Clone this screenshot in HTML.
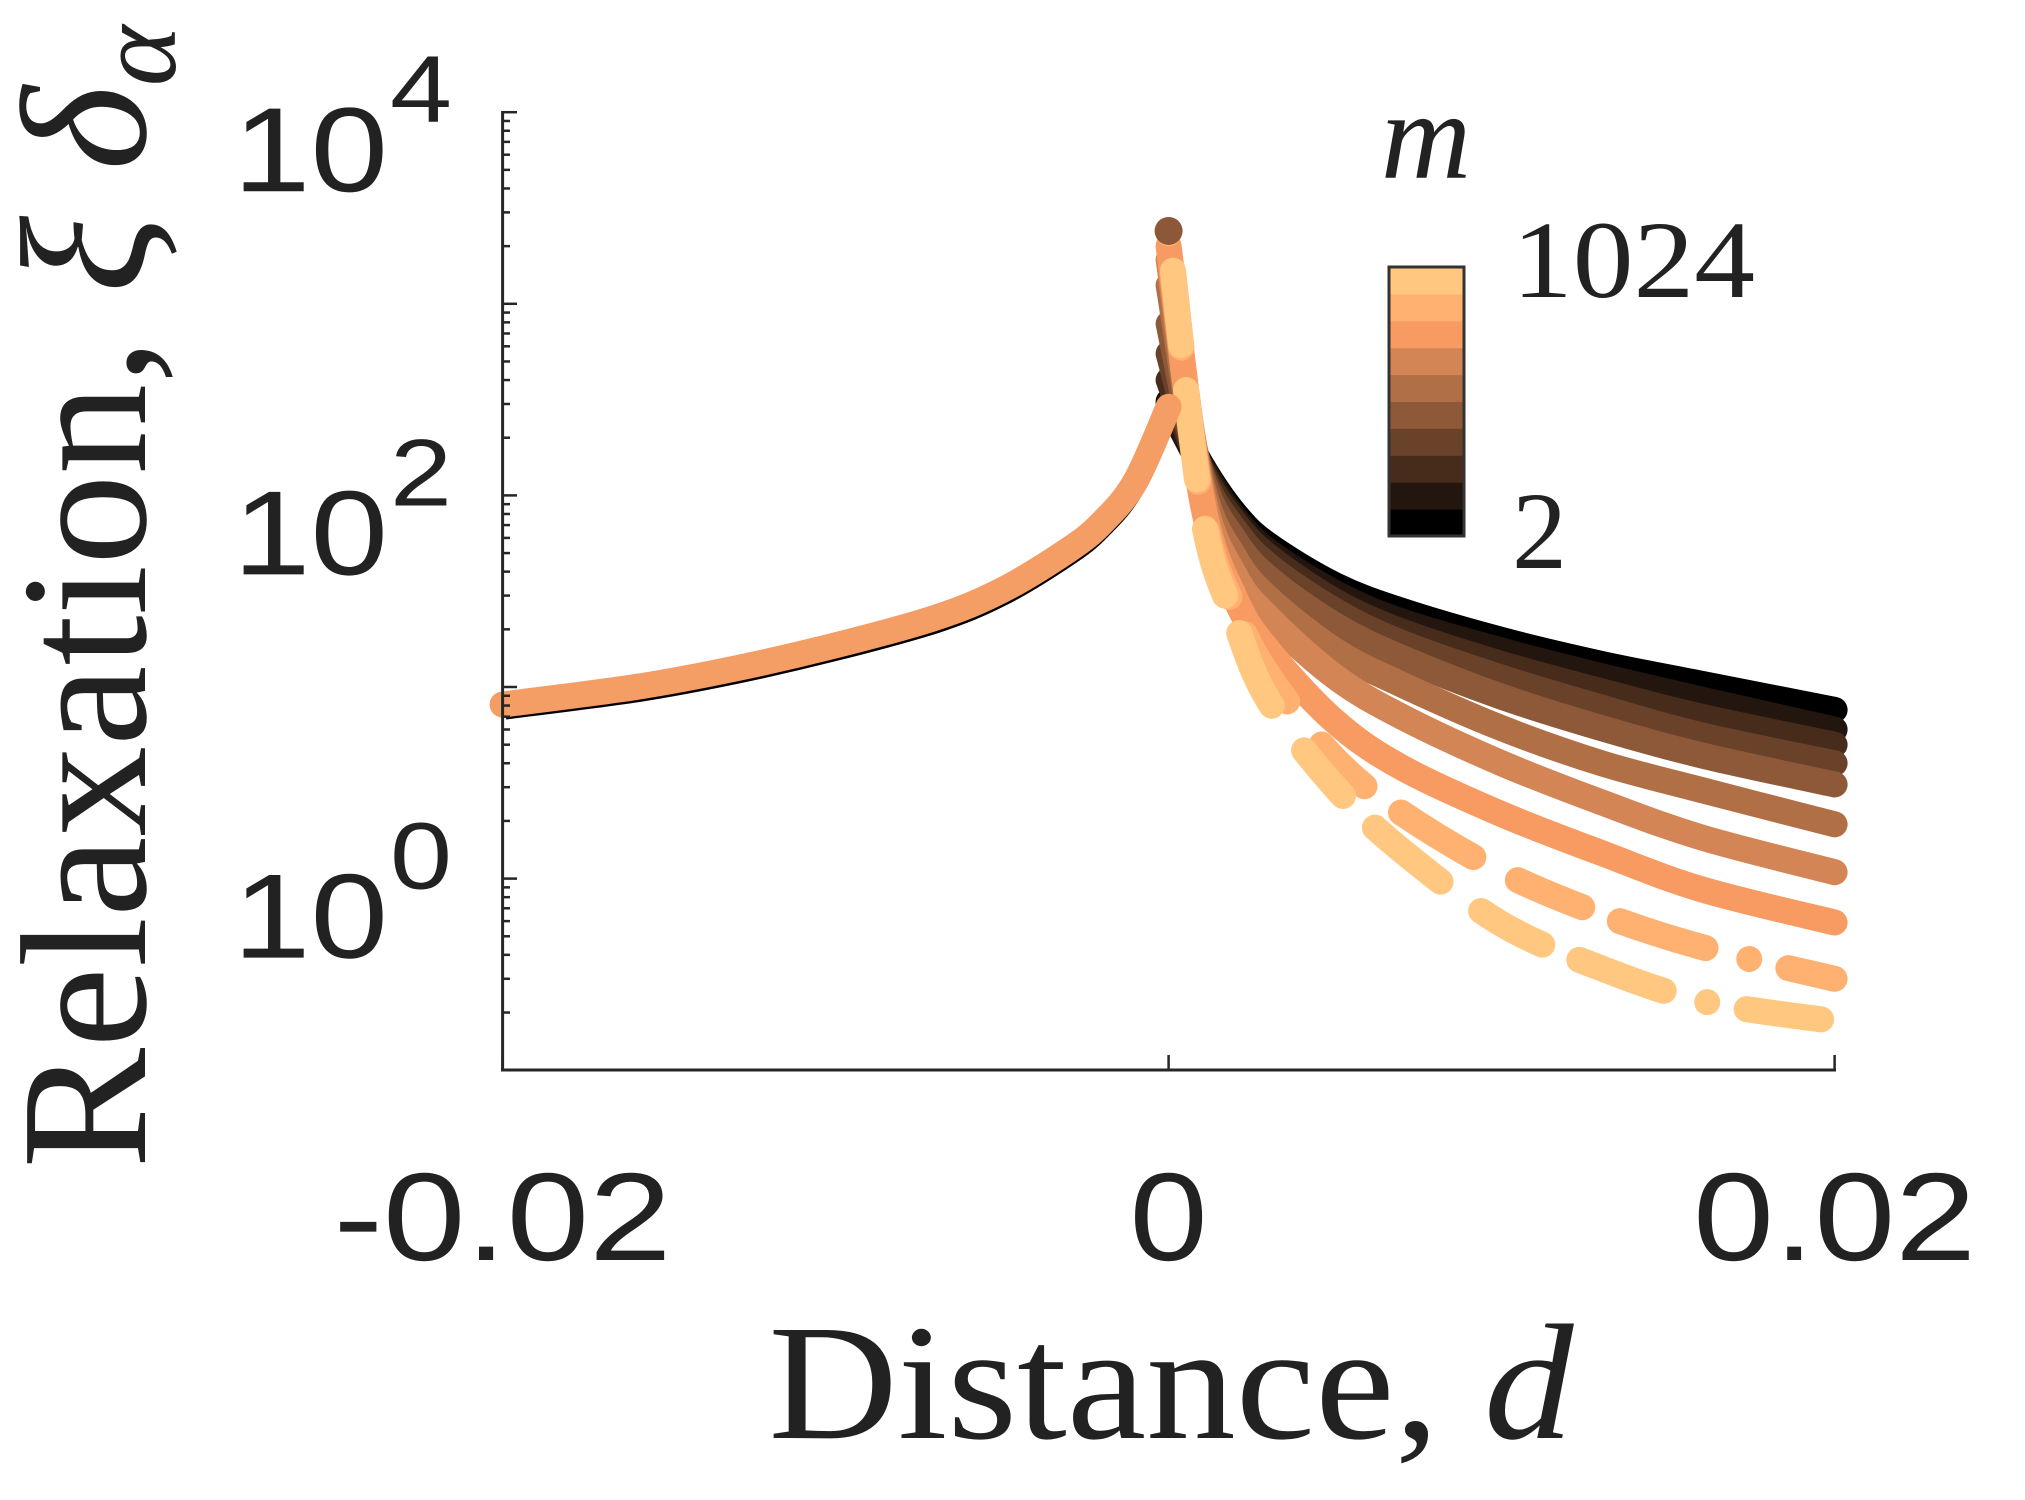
<!DOCTYPE html>
<html><head><meta charset="utf-8"><style>
html,body{margin:0;padding:0;background:#fff;}
svg{display:block;}
</style></head><body>
<svg id="chart" width="2025" height="1500" viewBox="0 0 2025 1500" xmlns="http://www.w3.org/2000/svg">
<defs><clipPath id="plotclip"><rect x="485" y="100" width="1375" height="970"/></clipPath></defs>
<g id="marks" clip-path="url(#plotclip)"></g>
<g id="axes"></g>
<g id="cbar"></g>
<text x="1426" y="178" font-family="Liberation Serif, serif" font-style="italic" font-size="125" text-anchor="middle" fill="#222">m</text>
<text x="1512" y="297" font-family="Liberation Serif, serif" font-size="110" textLength="243" lengthAdjust="spacingAndGlyphs" fill="#222">1024</text>
<text x="1512" y="568" font-family="Liberation Serif, serif" font-size="110" fill="#222">2</text>
<text x="1171" y="1438" font-family="Liberation Serif, serif" font-size="165" text-anchor="middle" textLength="805" lengthAdjust="spacingAndGlyphs" fill="#222">Distance, <tspan font-style="italic">d</tspan></text>
<text transform="translate(145,597) rotate(-90)" font-family="Liberation Serif, serif" font-size="180" text-anchor="middle" textLength="1143" lengthAdjust="spacingAndGlyphs" fill="#222">Relaxation, <tspan font-style="italic">ξ δ</tspan><tspan font-style="italic" font-size="115" dy="30">α</tspan></text>
</svg>
<script>
const NS='http://www.w3.org/2000/svg';
// data
const rightD=[0,0.001,0.002,0.003,0.005,0.007,0.01,0.013,0.016,0.02];
const leftD=[-0.02,-0.016,-0.013,-0.01,-0.007,-0.005,-0.003,-0.002,-0.001,0];
const leftVals=[8.1,10,12.5,16.5,23,32,52,72,118,290];
const mLabels=[2,4,8,16,32,64,128,256,512,1024];
const s2=[309,143,80,55,34,25,17.6,13.2,10.4,7.6];
const s4=[300,140,76,51,31,22,15.5,11.4,8.6,6.0];
const s8=[400,135,72,48,28,19.5,13.2,9.5,7.0,5.0];
const s16=[550,130,66,43,25,17,11.2,7.8,5.6,4.0];
const s32=[787,125,58,37,21,14.2,8.9,6.1,4.4,3.1];
const s64=[1250,115,47,29,15.5,10.3,6.1,4.0,2.9,1.92];
const s128=[1700,105,38,23,11.3,7.0,4.0,2.5,1.64,1.08];
const s256=[2000,95,29,15.5,6.6,3.8,2.17,1.36,0.88,0.59];
const s512=[2330,88,25,11.5,4.2,2.2,1.08,0.65,0.44,0.30];
const s1024=[2400,82,22,8.5,3.0,1.4,0.58,0.34,0.23,0.18];
const series=[s2,s4,s8,s16,s32,s64,s128,s256,s512,s1024];
const yTicks=[0,2,4];
const xTicks=[-0.02,0,0.02];
const xTickLabels=['-0.02','0','0.02'];

const X=d=>1168.6+d/0.02*666;
const Y=v=>878.6-Math.log10(v)*191.6;
function copper(t){const r=Math.min(1,1.25*t),g=0.7812*t,b=0.4975*t;return `rgb(${Math.round(r*255)},${Math.round(g*255)},${Math.round(b*255)})`;}
function pathFrom(ds,vs){
  const p=ds.map((d,i)=>[X(d),Y(vs[i])]);
  let s='M'+p[0][0]+','+p[0][1];
  for(let i=0;i<p.length-1;i++){const p0=p[Math.max(0,i-1)],p1=p[i],p2=p[i+1],p3=p[Math.min(p.length-1,i+2)];
    const c1=[p1[0]+(p2[0]-p0[0])/6,p1[1]+(p2[1]-p0[1])/6],c2=[p2[0]-(p3[0]-p1[0])/6,p2[1]-(p3[1]-p1[1])/6];
    s+=` C${c1[0]},${c1[1]} ${c2[0]},${c2[1]} ${p2[0]},${p2[1]}`;}
  return s;}
const marks=document.getElementById('marks');
const sh=document.createElementNS(NS,'path');
sh.setAttribute('d',pathFrom(leftD,leftVals));
sh.setAttribute('transform','translate(3,10)');
sh.setAttribute('fill','none');sh.setAttribute('stroke','#000');sh.setAttribute('stroke-width','10');


marks.appendChild(sh);
series.forEach((vs,i)=>{
  const p=document.createElementNS(NS,'path');
  p.setAttribute('d',pathFrom(rightD,vs));
  p.setAttribute('fill','none');
  p.setAttribute('stroke',copper(i/9));
  p.setAttribute('stroke-width','26');
  p.setAttribute('stroke-linecap','round');
  if(i>=8){p.setAttribute('stroke-dasharray','0 40 75 45 90 50 70 40 80 55 60 45 85 50 70 40 90 45');}
  
  
  marks.appendChild(p);
});
const lp=document.createElementNS(NS,'path');
lp.setAttribute('d',pathFrom(leftD,leftVals));
lp.setAttribute('fill','none');lp.setAttribute('stroke','#f49d64');lp.setAttribute('stroke-width','26');lp.setAttribute('stroke-linecap','round');


marks.appendChild(lp);
const pk=document.createElementNS(NS,'circle');
pk.setAttribute('cx',X(0));pk.setAttribute('cy',Y(s1024[0]));pk.setAttribute('r','14');pk.setAttribute('fill','#8c5838');


marks.appendChild(pk);
// axes
const ax=document.getElementById('axes');
function line(x1,y1,x2,y2,w,name){const l=document.createElementNS(NS,'line');l.setAttribute('x1',x1);l.setAttribute('y1',y1);l.setAttribute('x2',x2);l.setAttribute('y2',y2);l.setAttribute('stroke','#262626');l.setAttribute('stroke-width',w);


ax.appendChild(l);}
line(502.6,111,502.6,1071,3,'y-axis-line');
line(501,1070,1836,1070,3,'x-axis-line');
for(let e=-1;e<4;e++){for(let k=1;k<10;k++){const y=Y(k*Math.pow(10,e));line(502.6,y,k===1?517:510,y,2.5,'y-tick');}}
line(502.6,Y(10000),517,Y(10000),2.5,'y-tick');
xTicks.forEach(t=>line(X(t),1070,X(t),1055,2.5,'x-tick'));
function txt(x,y,s,fs,anchor,name,tl){const t=document.createElementNS(NS,'text');t.setAttribute('x',x);t.setAttribute('y',y);t.setAttribute('font-size',fs);t.setAttribute('text-anchor',anchor);t.setAttribute('font-family','Liberation Sans, sans-serif');t.setAttribute('fill','#222');t.textContent=s;
if(tl){t.setAttribute('textLength',tl);t.setAttribute('lengthAdjust','spacingAndGlyphs');}


ax.appendChild(t);return t;}
yTicks.forEach(e=>{const y=Y(Math.pow(10,e));
  txt(233,y+79,'10',120,'start','y-tick-label',155);
  txt(390,y+10,String(e),95,'start','y-tick-exponent',62);});
const xtl=[338,78,283];
xTicks.forEach((t,i)=>txt(X(t),1260,xTickLabels[i],125,'middle','x-tick-label',xtl[i]));
// colorbar
const cb=document.getElementById('cbar');
const cx=1389,cw=75,ctop=267,cbot=536,bh=(cbot-ctop)/mLabels.length;
mLabels.forEach((m,i)=>{const r=document.createElementNS(NS,'rect');
  r.setAttribute('x',cx);r.setAttribute('y',cbot-(i+1)*bh);r.setAttribute('width',cw);r.setAttribute('height',bh+0.5);r.setAttribute('fill',copper(i/9));
  
  
  cb.appendChild(r);});
const fr=document.createElementNS(NS,'rect');
fr.setAttribute('x',cx);fr.setAttribute('y',ctop);fr.setAttribute('width',cw);fr.setAttribute('height',cbot-ctop);fr.setAttribute('fill','none');fr.setAttribute('stroke','#333');fr.setAttribute('stroke-width','3');


cb.appendChild(fr);
</script>
</body></html>
